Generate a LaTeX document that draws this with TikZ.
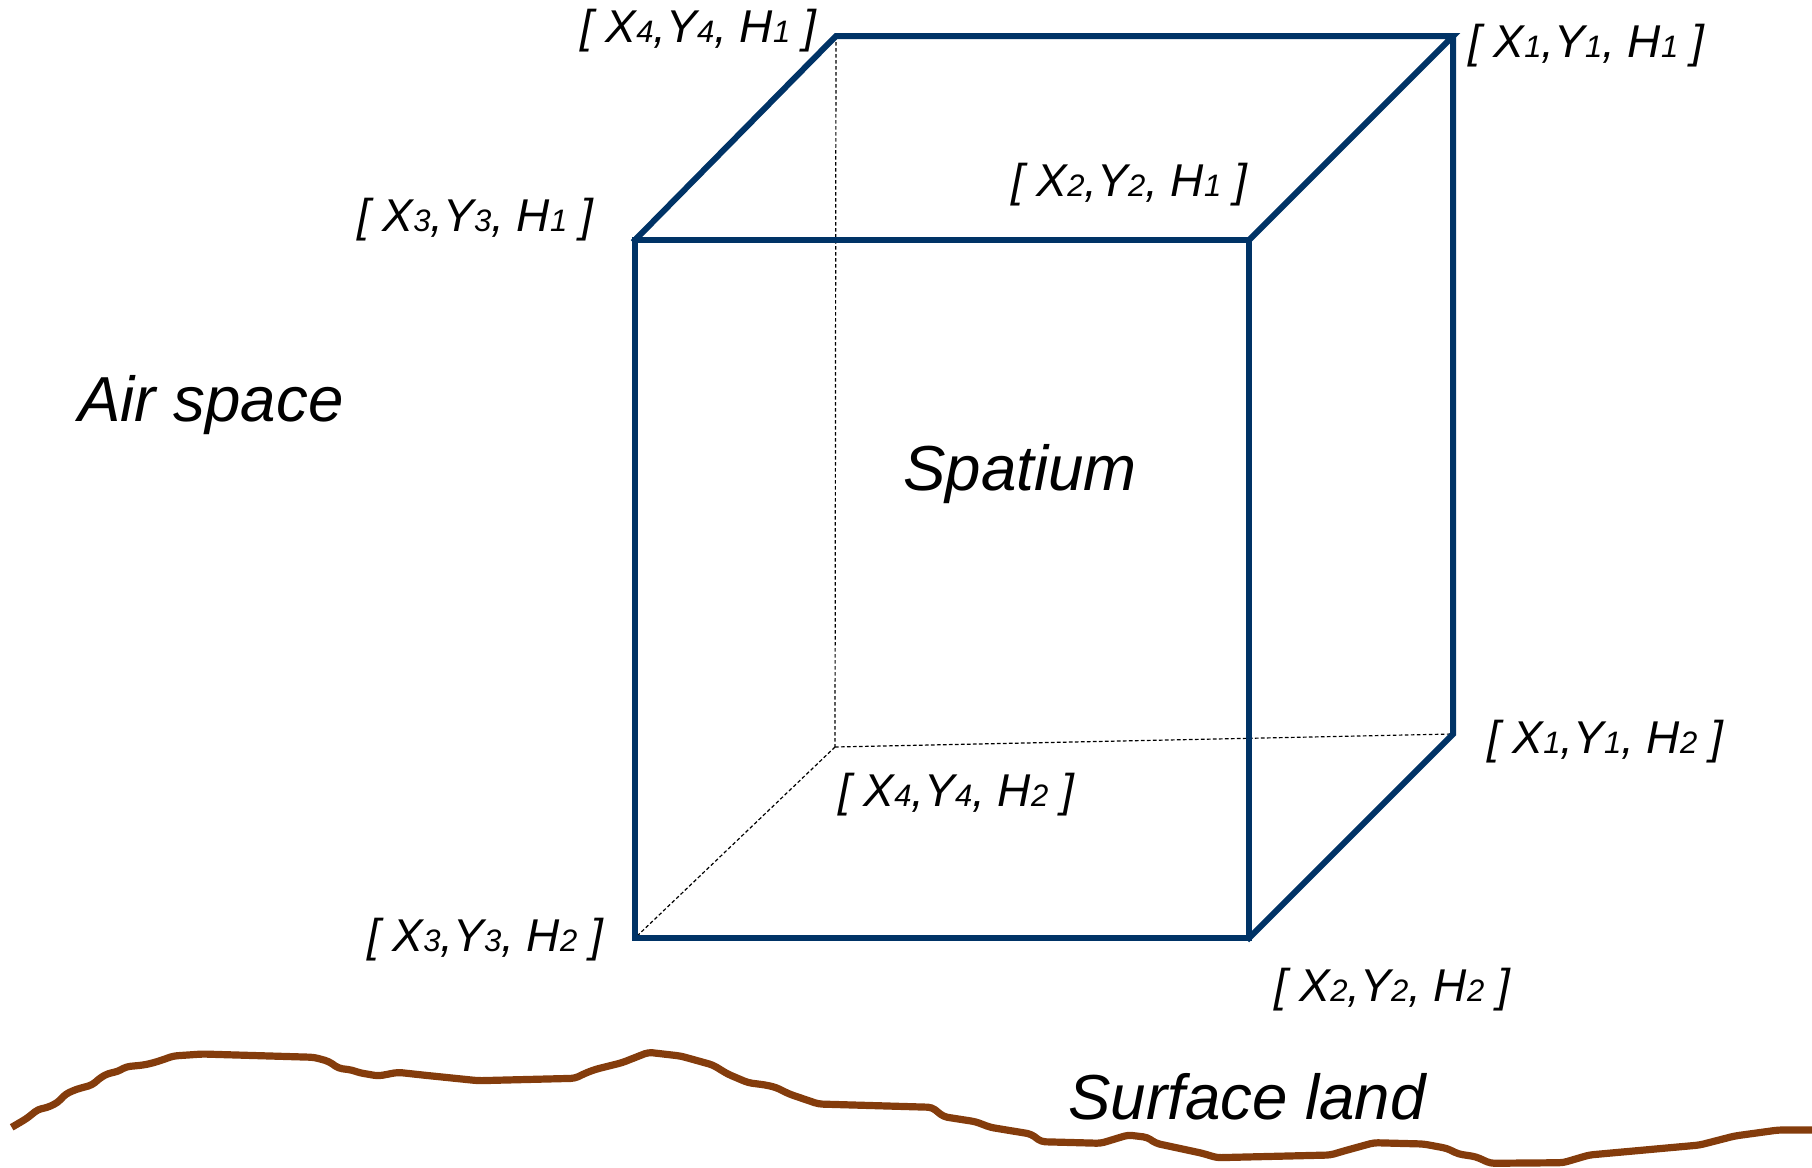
\documentclass[tikz,border=0pt]{standalone}
\usepackage{fontspec}
\setmainfont{Liberation Sans}
\definecolor{cubeblue}{RGB}{0,51,102}
\definecolor{landbrown}{RGB}{132,60,12}
\newcommand\sbx[1]{{\fontsize{15.5pt}{15.5pt}\selectfont #1}}
\tikzset{
  edge/.style={draw=cubeblue,line width=3pt,line join=miter,line cap=rect},
  hidden/.style={draw=black,line width=0.6pt,dash pattern=on 1.8pt off 1.2pt},
  corner/.style={font=\fontsize{23pt}{25pt}\selectfont\itshape,inner sep=0pt},
  bigtext/.style={font=\fontsize{31.8pt}{34pt}\selectfont\itshape,inner sep=0pt},
  land/.style={draw=landbrown,line width=3.6pt,line join=round,rounded corners=2pt}
}
\begin{document}
\begin{tikzpicture}[x=0.5pt,y=-0.5pt]
\useasboundingbox (0,0) rectangle (1812,1168);
% cube corners
\coordinate (FTL) at (635,240);
\coordinate (FTR) at (1249,240);
\coordinate (FBL) at (635,938);
\coordinate (FBR) at (1249,938);
\coordinate (BTL) at (836,36);
\coordinate (BTR) at (1453,36);
\coordinate (BBR) at (1453,734);
\coordinate (BBL) at (835,747);
% hidden edges
\draw[hidden] (BTL) -- (BBL);
\draw[hidden] (BBL) -- (BBR);
\draw[hidden] (BBL) -- (FBL);
% visible edges
\draw[edge] (FTL) -- (FTR) -- (FBR) -- (FBL) -- cycle;
\draw[edge] (FTL) -- (BTL) -- (BTR) -- (FTR);
\draw[edge] (BTR) -- (BBR) -- (FBR);
% corner labels
\node[corner] (l4h1) at (698,31) {[ X\sbx{4},Y\sbx{4}, H\sbx{1} ]};
\node[corner] (l1h1) at (1586,46) {[ X\sbx{1},Y\sbx{1}, H\sbx{1} ]};
\node[corner] (l3h1) at (475,220) {[ X\sbx{3},Y\sbx{3}, H\sbx{1} ]};
\node[corner] (l2h1) at (1129,185) {[ X\sbx{2},Y\sbx{2}, H\sbx{1} ]};
\node[corner] (l1h2) at (1605,742) {[ X\sbx{1},Y\sbx{1}, H\sbx{2} ]};
\node[corner] (l4h2) at (956,795) {[ X\sbx{4},Y\sbx{4}, H\sbx{2} ]};
\node[corner] (l3h2) at (485,940) {[ X\sbx{3},Y\sbx{3}, H\sbx{2} ]};
\node[corner] (l2h2) at (1392,990) {[ X\sbx{2},Y\sbx{2}, H\sbx{2} ]};
% main texts
\node[bigtext] (air) at (211,405) {Air space};
\node[bigtext] (spat) at (1020,474) {Spatium};
\node[bigtext] (surf) at (1247,1097) {Surface land};
% surface land line
\draw[land] (11.7,1127.3) -- (26.4,1118.7) -- (38.1,1109.3) -- (46.9,1107.7) -- (57.5,1102.7) -- (65.7,1094) -- (76.3,1089.3) -- (92.1,1085) -- (100.9,1077.3) -- (108.5,1073.3) -- (117.4,1071.7) -- (126.2,1066.7) -- (143.8,1065) -- (153.7,1062.7) -- (164.3,1059.3) -- (173.1,1056) -- (202.4,1054) -- (313.9,1057.3) -- (328.6,1061.3) -- (338.6,1068.3) -- (352,1070) -- (359.1,1072.7) -- (378.5,1076) -- (397.8,1072.3) -- (422.5,1075) -- (478.2,1080.7) -- (575,1078.3) -- (585,1073.3) -- (595.6,1069.3) -- (622,1062.7) -- (648.4,1052.3) -- (680.6,1056) -- (712.9,1065) -- (727.6,1074) -- (748.1,1082.7) -- (765.7,1085) -- (775.7,1087.3) -- (789.2,1094) -- (818.5,1104) -- (932,1107.3) -- (943.6,1116.7) -- (975.6,1121.7) -- (990.2,1127.3) -- (1030.9,1134) -- (1041.3,1141.7) -- (1100.7,1143.3) -- (1128,1135) -- (1147.2,1137.3) -- (1155.9,1143.3) -- (1202.4,1153.3) -- (1217,1157.7) -- (1330.4,1155) -- (1344.9,1150.7) -- (1374,1142.7) -- (1423.5,1144) -- (1446.7,1148.3) -- (1458.4,1154) -- (1475.8,1156.7) -- (1490.4,1163.3) -- (1563,1162.7) -- (1589.2,1155) -- (1699.7,1145) -- (1734.6,1136) -- (1778.3,1130) -- (1812,1130);
\end{tikzpicture}
\end{document}
